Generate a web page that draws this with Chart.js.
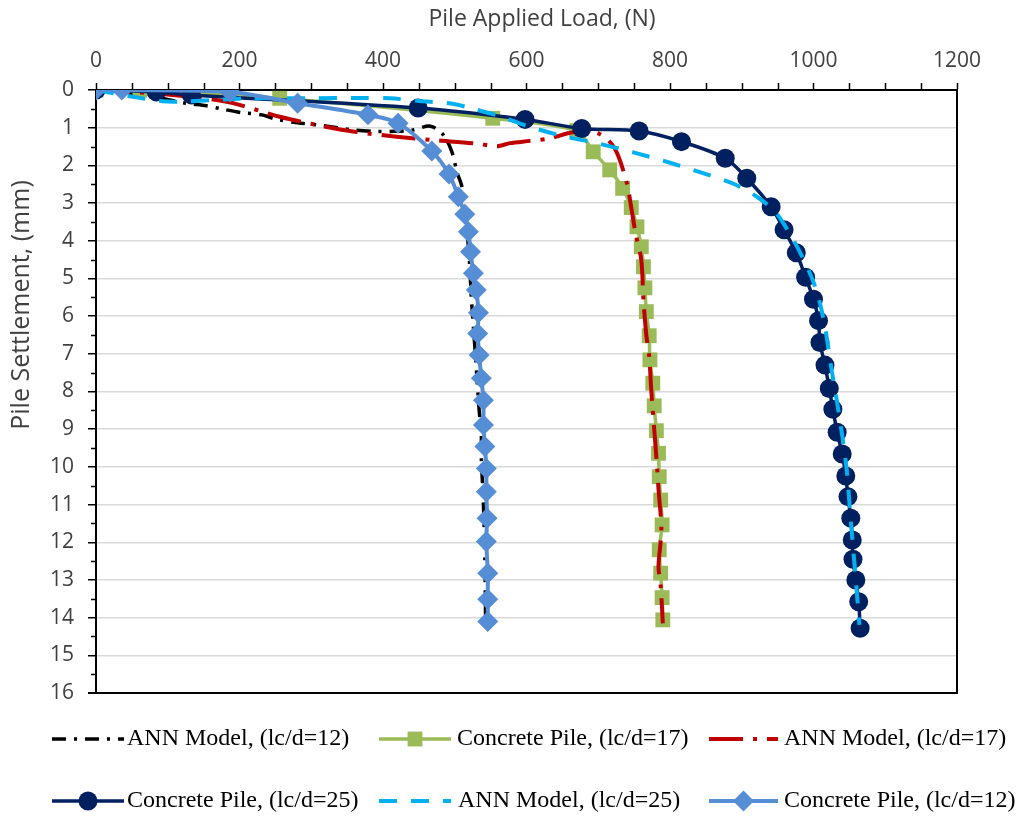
<!DOCTYPE html>
<html>
<head>
<meta charset="utf-8">
<script src="https://cdn.jsdelivr.net/npm/chart.js@4.4.1/dist/chart.umd.min.js"></script>
<style>
    html, body { margin: 0; padding: 0; background: #ffffff; }
    #wrap { width: 1020px; height: 818px; }
</style>
</head>
<body>
<div id="wrap"><canvas id="pileChart" width="1020" height="818"></canvas></div>
<script>
// values (load in N, settlement in mm)
const ann12Load = [0, 80, 125, 154, 177, 203, 231, 252, 281, 310, 359, 389, 410, 440, 466, 484, 496, 503, 510, 516, 521, 523, 528, 534, 537, 537, 540, 542, 543];
const ann12Settle = [0, 0.18, 0.35, 0.42, 0.51, 0.6, 0.66, 0.78, 0.87, 0.93, 1.06, 1.1, 1.1, 1.07, 0.96, 1.19, 1.64, 2.17, 2.57, 3.5, 4.69, 5.48, 6.81, 8.49, 9.11, 9.73, 11.0, 12.5, 14.0];

const cp17Load = [0, 61, 256, 553, 670, 693, 716, 734, 746, 754, 760, 763, 765, 767, 771, 772, 776, 778, 781, 784, 785, 787, 789, 785, 787, 789, 790];
const cp17Settle = [0, 0, 0.22, 0.75, 1.08, 1.64, 2.12, 2.61, 3.12, 3.63, 4.16, 4.69, 5.25, 5.88, 6.52, 7.16, 7.78, 8.38, 9.04, 9.64, 10.26, 10.88, 11.54, 12.2, 12.82, 13.47, 14.06];

const ann17Load = [0, 100, 182, 256, 308, 358, 419, 470, 525, 559, 577, 605, 633, 665, 700, 723, 740, 745, 752, 760, 763, 767, 771, 774, 778, 782, 784, 788, 784, 787, 790];
const ann17Settle = [0, 0.12, 0.31, 0.71, 0.93, 1.1, 1.24, 1.33, 1.41, 1.49, 1.41, 1.35, 1.28, 1.12, 1.15, 1.55, 2.48, 3.0, 3.8, 4.51, 5.57, 6.5, 7.06, 8.0, 9.0, 10.0, 10.6, 11.67, 12.65, 13.16, 14.15];

const cp25Load = [0, 84, 133, 449, 598, 677, 757, 816, 877, 907, 941, 959, 976, 989, 1000, 1007, 1009, 1016, 1022, 1027, 1033, 1040, 1045, 1048, 1052, 1054, 1055, 1059, 1063, 1065];
const cp25Settle = [0, 0.05, 0.13, 0.48, 0.78, 1.02, 1.09, 1.37, 1.81, 2.34, 3.1, 3.71, 4.32, 4.97, 5.55, 6.12, 6.7, 7.3, 7.92, 8.47, 9.08, 9.66, 10.24, 10.79, 11.36, 11.94, 12.45, 13.0, 13.58, 14.28];

const ann25Load = [0, 45, 93, 117, 160, 210, 300, 370, 410, 450, 495, 520, 560, 600, 650, 700, 750, 800, 845, 890, 920, 945, 965, 985, 1000, 1009, 1017, 1025, 1033, 1041, 1047, 1051, 1055, 1059, 1064];
const ann25Settle = [0, 0.16, 0.3, 0.31, 0.27, 0.22, 0.22, 0.21, 0.22, 0.29, 0.36, 0.47, 0.68, 0.95, 1.22, 1.42, 1.66, 1.93, 2.2, 2.5, 2.82, 3.2, 3.75, 4.45, 5.1, 5.66, 6.4, 7.4, 8.3, 9.3, 10.2, 11.2, 12.1, 13.0, 14.19];

const cp12Load = [0, 36, 187, 281, 379, 421, 468, 492, 505, 514, 519, 522, 526, 530, 533, 532, 534, 537, 540, 540, 542, 544, 544, 545, 544, 546, 546, 546];
const cp12Settle = [0, 0, 0.05, 0.35, 0.66, 0.88, 1.62, 2.23, 2.83, 3.3, 3.76, 4.29, 4.86, 5.31, 5.91, 6.46, 7.03, 7.65, 8.23, 8.89, 9.46, 10.04, 10.66, 11.36, 11.98, 12.82, 13.51, 14.1];

const seriesNames = ['ANN Model, (lc/d=12)', 'Concrete Pile, (lc/d=17)', 'ANN Model, (lc/d=17)',
    'Concrete Pile, (lc/d=25)', 'ANN Model, (lc/d=25)', 'Concrete Pile, (lc/d=12)'];
const loadTicks = [0, 200, 400, 600, 800, 1000, 1200];
const settleTicks = [0, 1, 2, 3, 4, 5, 6, 7, 8, 9, 10, 11, 12, 13, 14, 15, 16];
const xTitle = 'Pile Applied Load, (N)';
const yTitle = 'Pile Settlement, (mm)';

function pts(xs, ys) {
    return xs.map((x, i) => ({x: x, y: ys[i]}));
}

function markerPath(ctx, style, r, x, y) {
    ctx.beginPath();
    if (style === 'circle') {
        ctx.arc(x, y, r, 0, Math.PI * 2);
    } else if (style === 'rect') {
        const s = Math.SQRT1_2 * r;
        ctx.rect(x - s, y - s, 2 * s, 2 * s);
    } else if (style === 'rectRot') {
        ctx.moveTo(x - r, y);
        ctx.lineTo(x, y - r);
        ctx.lineTo(x + r, y);
        ctx.lineTo(x, y + r);
        ctx.closePath();
    }
}

// minor ticks, right/bottom frame and the two axis titles (placed as in the original)
const frameTicks = {
    id: 'frameTicks',
    afterDraw(chart) {
        const ctx = chart.ctx;
        const a = chart.chartArea;
        const x = chart.scales.x;
        const y = chart.scales.y;
        ctx.save();
        ctx.strokeStyle = '#000';
        ctx.lineWidth = 1.5;
        ctx.beginPath();
        for (let v = 50; v < 1200; v += 50) {
            if (v % 200 === 0) continue;
            const px = Math.round(x.getPixelForValue(v)) + 0.5;
            ctx.moveTo(px, a.top);
            ctx.lineTo(px, a.top - 7);
        }
        for (let v = 0.5; v < 16; v += 1) {
            const py = Math.round(y.getPixelForValue(v)) + 0.5;
            ctx.moveTo(a.left, py);
            ctx.lineTo(a.left - 5, py);
        }
        ctx.stroke();
        ctx.lineWidth = 2;
        ctx.beginPath();
        ctx.moveTo(a.right, a.top);
        ctx.lineTo(a.right, a.bottom);
        ctx.lineTo(a.left - 8, a.bottom);
        ctx.stroke();

        ctx.fillStyle = '#404040';
        ctx.textAlign = 'center';
        ctx.textBaseline = 'middle';
        ctx.font = '23px "Open Sans", sans-serif';
        ctx.fillText(xTitle, 542, 19);
        ctx.translate(22, 305);
        ctx.rotate(-Math.PI / 2);
        ctx.font = '25px "Open Sans", sans-serif';
        ctx.fillText(yTitle, 0, 0);
        ctx.restore();
    }
};

// legend in two rows under the plot, like the original
const legendRows = {
    id: 'legendRows',
    afterDraw(chart) {
        const ctx = chart.ctx;
        const slots = [
            {x0: 52, x1: 124, tx: 127, y: 739},
            {x0: 379, x1: 451, tx: 457, y: 739},
            {x0: 709, x1: 778, tx: 784, y: 739},
            {x0: 52, x1: 124, tx: 127, y: 801},
            {x0: 379, x1: 451, tx: 458, y: 801},
            {x0: 709, x1: 778, tx: 784, y: 801}
        ];
        ctx.save();
        chart.data.datasets.forEach((ds, i) => {
            const s = slots[i];
            ctx.strokeStyle = ds.borderColor;
            ctx.lineWidth = ds.borderWidth;
            ctx.setLineDash(ds.borderDash || []);
            ctx.beginPath();
            ctx.moveTo(s.x0, s.y);
            ctx.lineTo(s.x1, s.y);
            ctx.stroke();
            ctx.setLineDash([]);
            if (ds.pointRadius > 0) {
                markerPath(ctx, ds.pointStyle, ds.pointRadius, (s.x0 + s.x1) / 2, s.y);
                ctx.fillStyle = ds.backgroundColor;
                ctx.fill();
            }
            ctx.fillStyle = '#000';
            ctx.font = '24px "Liberation Serif", "Times New Roman", serif';
            ctx.textBaseline = 'middle';
            ctx.textAlign = 'left';
            ctx.fillText(seriesNames[i], s.tx, s.y);
        });
        ctx.restore();
    }
};

Chart.defaults.font.family = '"Open Sans", sans-serif';

new Chart("pileChart", {
    type: "scatter",
    data: {
        datasets: [{
            label: seriesNames[0], data: pts(ann12Load, ann12Settle),
            borderColor: '#000000', backgroundColor: '#000000', borderWidth: 3.5,
            borderDash: [14, 8, 3, 8], pointRadius: 0, order: 6
        }, {
            label: seriesNames[1], data: pts(cp17Load, cp17Settle),
            borderColor: '#9BBB59', backgroundColor: '#9BBB59', borderWidth: 3.5,
            pointStyle: 'rect', pointRadius: 10.5, pointBorderWidth: 0, order: 5
        }, {
            label: seriesNames[2], data: pts(ann17Load, ann17Settle),
            borderColor: '#C00000', backgroundColor: '#C00000', borderWidth: 4,
            borderDash: [34, 10, 4, 10], pointRadius: 0, order: 4
        }, {
            label: seriesNames[3], data: pts(cp25Load, cp25Settle),
            borderColor: '#002060', backgroundColor: '#002060', borderWidth: 3.5,
            pointStyle: 'circle', pointRadius: 9.5, pointBorderWidth: 0, order: 3
        }, {
            label: seriesNames[4], data: pts(ann25Load, ann25Settle),
            borderColor: '#00B0F0', backgroundColor: '#00B0F0', borderWidth: 4,
            borderDash: [18, 14], pointRadius: 0, order: 2
        }, {
            label: seriesNames[5], data: pts(cp12Load, cp12Settle),
            borderColor: '#558ED5', backgroundColor: '#558ED5', borderWidth: 4,
            pointStyle: 'rectRot', pointRadius: 10.5, pointBorderWidth: 0, order: 1
        }]
    },
    options: {
        responsive: false,
        animation: false,
        showLine: true,
        elements: {line: {tension: 0.3, fill: false}},
        layout: {padding: {left: 0, top: 0, right: 63, bottom: 125}},
        plugins: {legend: {display: false}, tooltip: {enabled: false}},
        scales: {
            x: {
                type: 'linear', position: 'top', min: 0, max: 1200,
                afterBuildTicks: s => { s.ticks = loadTicks.map(v => ({value: v})); },
                afterFit: s => { s.height = 90; },
                grid: {drawOnChartArea: false, tickLength: 7, tickColor: '#000', tickWidth: 1.5},
                border: {display: true, color: '#000', width: 2},
                ticks: {color: '#404040', font: {size: 21}, padding: 9, maxRotation: 0,
                    callback: v => v.toString()}
            },
            y: {
                type: 'linear', reverse: true, min: 0, max: 16,
                afterBuildTicks: s => { s.ticks = settleTicks.map(v => ({value: v})); },
                afterFit: s => { s.width = 96; },
                grid: {color: '#d9d9d9', lineWidth: 1.5, tickLength: 8, tickColor: '#000', tickWidth: 1.5},
                border: {display: true, color: '#000', width: 2},
                ticks: {color: '#404040', font: {size: 21}, padding: 14,
                    callback: v => v.toString()}
            }
        }
    },
    plugins: [frameTicks, legendRows]
});
</script>
</body>
</html>
